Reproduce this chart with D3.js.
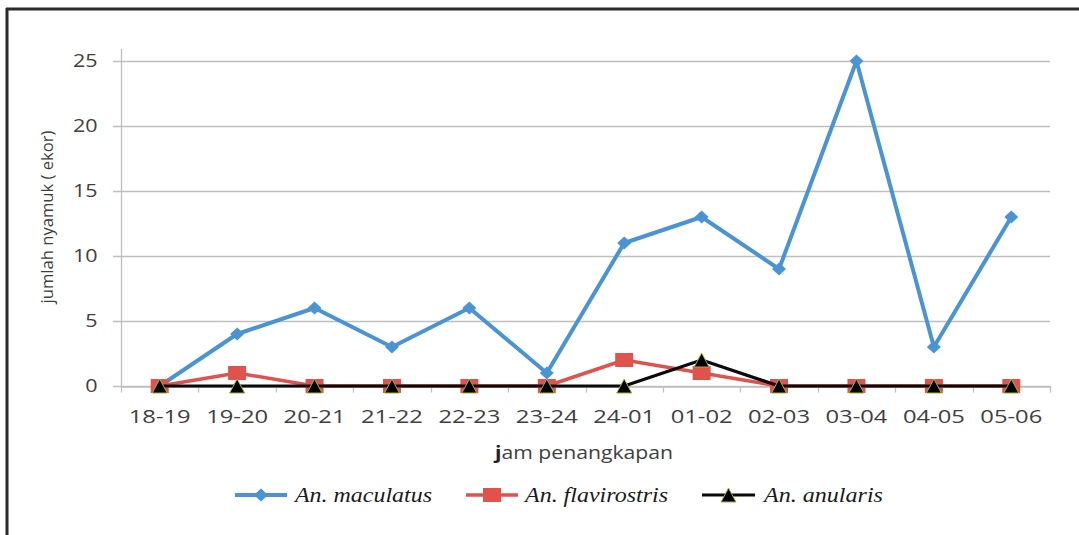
<!DOCTYPE html>
<html>
<head>
<meta charset="utf-8">
<script src="https://cdn.jsdelivr.net/npm/d3@7"></script>
<style>
  html, body { margin: 0; padding: 0; background: #fff; }
  svg { display: block; }
</style>
</head>
<body>
<svg id="chart" width="1079" height="535"></svg>
<script>
// Catch hours (jam penangkapan) and mosquito counts per species
const hours = ["18-19", "19-20", "20-21", "21-22", "22-23", "23-24", "24-01", "01-02", "02-03", "03-04", "04-05", "05-06"];
const maculatus = [0, 4, 6, 3, 6, 1, 11, 13, 9, 25, 3, 13];
const flavirostris = [0, 1, 0, 0, 0, 0, 2, 1, 0, 0, 0, 0];
const anularis = [0, 0, 0, 0, 0, 0, 0, 2, 0, 0, 0, 0];
const yTicks = [0, 5, 10, 15, 20, 25];
const seriesNames = ["An. maculatus", "An. flavirostris", "An. anularis"];

const svg = d3.select("#chart");
const W = 1079, H = 535;

// Frame lines (top and left)
svg.append("line").attr("x1", 6).attr("x2", W).attr("y1", 9).attr("y2", 9)
  .attr("stroke", "#2a2a2a").attr("stroke-width", 3);
svg.append("line").attr("x1", 7).attr("x2", 7).attr("y1", 8).attr("y2", H)
  .attr("stroke", "#2a2a2a").attr("stroke-width", 3);

const plot = { left: 121, right: 1050, top: 49, bottom: 386 };

const x = d3.scaleBand().domain(hours).range([plot.left, plot.right]);
const y = d3.scaleLinear().domain([0, 25]).range([plot.bottom, 61]);
const cx = d => x(d) + x.bandwidth() / 2;

const tickFont = "'Open Sans', 'DejaVu Sans', sans-serif";
const charW = 12.3; // stretched glyph width of tick labels

// Horizontal gridlines
svg.append("g")
  .selectAll("line").data(yTicks).join("line")
  .attr("x1", plot.left - 8).attr("x2", plot.right)
  .attr("y1", d => Math.round(y(d)) + 0.5).attr("y2", d => Math.round(y(d)) + 0.5)
  .attr("stroke", "#bfbfbf").attr("stroke-width", 1.3);

// Y axis
const yAxis = svg.append("g")
  .attr("transform", `translate(${plot.left + 0.5},0)`)
  .call(d3.axisLeft(y).tickValues(yTicks).tickSize(0).tickPadding(24));
yAxis.select(".domain").remove();
yAxis.append("line").attr("x1", 0).attr("x2", 0).attr("y1", plot.top).attr("y2", plot.bottom)
  .attr("stroke", "#bfbfbf").attr("stroke-width", 1.3);
yAxis.selectAll(".tick text")
  .attr("font-family", tickFont).attr("font-size", 18).attr("fill", "#404040")
  .attr("textLength", function () { return this.textContent.length * charW; })
  .attr("lengthAdjust", "spacingAndGlyphs");

// X axis
const xAxis = svg.append("g")
  .attr("transform", `translate(0,${Math.round(plot.bottom) + 0.5})`)
  .call(d3.axisBottom(x).tickSize(0).tickPadding(24));
xAxis.select(".domain").attr("stroke", "#bfbfbf").attr("stroke-width", 1.3);
xAxis.selectAll(".tick text")
  .attr("font-family", tickFont).attr("font-size", 18).attr("fill", "#404040")
  .attr("textLength", 62).attr("lengthAdjust", "spacingAndGlyphs");
// tick marks at category boundaries
const bounds = hours.map(h => x(h)).concat([plot.right]);
xAxis.append("g").selectAll("line").data(bounds).join("line")
  .attr("x1", d => Math.round(d) + 0.5).attr("x2", d => Math.round(d) + 0.5)
  .attr("y1", 0).attr("y2", 6)
  .attr("stroke", "#bfbfbf").attr("stroke-width", 1.3);

// Axis titles
svg.append("text")
  .attr("transform", `translate(53,217) rotate(-90)`)
  .attr("text-anchor", "middle")
  .attr("font-family", tickFont).attr("font-size", 17).attr("fill", "#404040")
  .attr("textLength", 173).attr("lengthAdjust", "spacingAndGlyphs")
  .text("jumlah nyamuk ( ekor)");

const xTitle = svg.append("text")
  .attr("x", 495).attr("y", 459)
  .attr("font-family", tickFont).attr("font-size", 18).attr("fill", "#404040")
  .attr("textLength", 178).attr("lengthAdjust", "spacingAndGlyphs");
xTitle.append("tspan").attr("font-weight", "bold").attr("fill", "#222").text("j");
xTitle.append("tspan").text("am penangkapan");

// Series definitions
const series = [
  { name: seriesNames[0], values: maculatus, color: "#4a94d4", width: 4, marker: "diamond" },
  { name: seriesNames[1], values: flavirostris, color: "#e0524c", width: 3.5, marker: "square" },
  { name: seriesNames[2], values: anularis, color: "#0a0a0a", width: 3.2, marker: "triangle" }
];

const line = d3.line().x((d, i) => cx(hours[i])).y(d => y(d));

function drawMarker(g, type, color, px, py) {
  if (type === "diamond") {
    g.append("path")
      .attr("d", `M${px},${py - 6.5} L${px + 7},${py} L${px},${py + 6.5} L${px - 7},${py} Z`)
      .attr("fill", color);
  } else if (type === "square") {
    g.append("rect")
      .attr("x", px - 9).attr("y", py - 7).attr("width", 18).attr("height", 14)
      .attr("fill", color);
  } else {
    g.append("path")
      .attr("d", `M${px},${py - 7} L${px + 7.5},${py + 7} L${px - 7.5},${py + 7} Z`)
      .attr("fill", "#000").attr("stroke", "#a2b23c").attr("stroke-width", 1);
  }
}

// Lines then markers, series by series
series.forEach(s => {
  svg.append("path")
    .datum(s.values)
    .attr("d", line)
    .attr("fill", "none")
    .attr("stroke", s.color)
    .attr("stroke-width", s.width)
    .attr("stroke-linejoin", "round");
  const mg = svg.append("g");
  s.values.forEach((v, i) => drawMarker(mg, s.marker, s.color, cx(hours[i]), y(v)));
});

// Legend
const legendY = 495;
const legendItems = [
  { s: series[0], x0: 235, x1: 287, tx: 295, tw: 137 },
  { s: series[1], x0: 466, x1: 518, tx: 525, tw: 143 },
  { s: series[2], x0: 702, x1: 755, tx: 764, tw: 119 }
];
legendItems.forEach(it => {
  const g = svg.append("g");
  g.append("line").attr("x1", it.x0).attr("x2", it.x1).attr("y1", legendY).attr("y2", legendY)
    .attr("stroke", it.s.color).attr("stroke-width", it.s.width);
  drawMarker(g, it.s.marker, it.s.color, (it.x0 + it.x1) / 2, legendY);
  g.append("text").attr("x", it.tx).attr("y", legendY + 7)
    .attr("font-family", "'Liberation Serif', 'Times New Roman', serif")
    .attr("font-style", "italic").attr("font-size", 22).attr("fill", "#1a1a1a")
    .attr("textLength", it.tw).attr("lengthAdjust", "spacingAndGlyphs")
    .text(it.s.name);
});
</script>
</body>
</html>
